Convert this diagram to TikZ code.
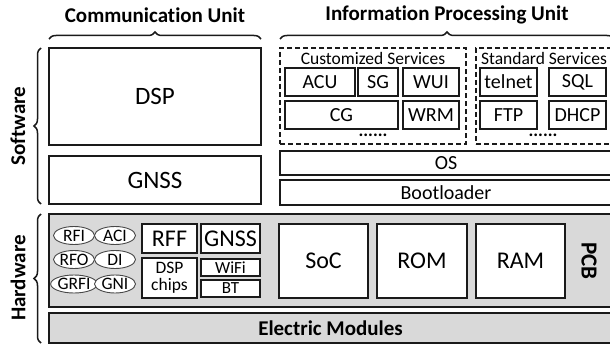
\documentclass[tikz,border=0pt]{standalone}
\usepackage{fontspec}
\setmainfont{Carlito}[Ligatures=NoCommon]
\usetikzlibrary{decorations.pathreplacing,shapes.geometric}
\definecolor{pcbgray}{HTML}{D9D9D9}
\definecolor{ink}{HTML}{1A1A1A}
\tikzset{
  box/.style={draw=ink, line width=1.4pt, fill=white, inner sep=0pt, outer sep=0pt, font=\fontsize{20}{22}\selectfont},
  dbox/.style={draw=ink, line width=1.2pt, dashed, dash pattern=on 5pt off 3pt, inner sep=0pt, outer sep=0pt},
  graybox/.style={draw=ink, line width=1.4pt, fill=pcbgray, inner sep=0pt, outer sep=0pt},
  oval/.style={draw=ink!80, line width=0.9pt, fill=white, ellipse, inner sep=0pt, outer sep=0pt, minimum width=41pt, minimum height=18pt, font=\fontsize{17.5}{18}\selectfont},
  hdr/.style={font=\fontsize{21}{23}\selectfont\bfseries, inner sep=0pt},
  small/.style={font=\fontsize{17.5}{19}\selectfont, inner sep=0pt},
  brc/.style={decorate, decoration={brace, amplitude=7pt}, line width=1.5pt, draw=ink},
  dotsty/.style={font=\fontsize{18}{18}\selectfont\bfseries, inner sep=0pt},
}
\begin{document}
\begin{tikzpicture}[x=1pt,y=-1pt]
\useasboundingbox (0,0) rectangle (610,345);
% headers
\node[hdr] (cu) at (155,15) {Communication Unit};
\node[hdr] (ipu) at (447,15) {Information Processing Unit};
\coordinate (cuL) at (49,39); \coordinate (cuR) at (261,39);
\draw[brc] (cuL) -- (cuR);
\coordinate (ipL) at (280,39); \coordinate (ipR) at (614,39);
\draw[brc] (ipL) -- (ipR);
% side labels
\node[hdr, rotate=90] (sw) at (18,126) {Software};
\node[hdr, rotate=90] (hw) at (18,278) {Hardware};
\coordinate (swB) at (41,204); \coordinate (swT) at (41,48);
\draw[brc] (swB) -- (swT);
\coordinate (hwB) at (41,343); \coordinate (hwT) at (41,214);
\draw[brc] (hwB) -- (hwT);
% communication software
\node[box, minimum width=212pt, minimum height=97pt, font=\fontsize{25}{27}\selectfont] (dsp) at (155,96.5) {DSP};
\node[box, minimum width=212pt, minimum height=48pt, font=\fontsize{25}{27}\selectfont] (gnss) at (155,180) {GNSS};
% information processing software
\node[dbox, minimum width=186pt, minimum height=96pt] (cs) at (373,96) {};
\node[dbox, minimum width=144pt, minimum height=96pt] (ss) at (548,96) {};
\node[small] (cst) at (373,58) {Customized Services};
\node[small] (sst) at (544,58) {Standard Services};
\node[box, minimum width=70pt, minimum height=28pt] (acu) at (320,82) {ACU};
\node[box, minimum width=40pt, minimum height=28pt] (sg) at (378,82) {SG};
\node[box, minimum width=56pt, minimum height=28pt] (wui) at (431,82) {WUI};
\node[box, minimum width=113pt, minimum height=28pt] (cg) at (341.5,115) {CG};
\node[box, minimum width=56pt, minimum height=28pt] (wrm) at (431,115) {WRM};
\node[box, minimum width=57pt, minimum height=28pt] (telnet) at (508.5,82) {telnet};
\node[box, minimum width=57pt, minimum height=28pt] (sql) at (577.5,82) {SQL};
\node[box, minimum width=57pt, minimum height=28pt] (ftp) at (508.5,115) {FTP};
\node[box, minimum width=57pt, minimum height=28pt] (dhcp) at (577.5,115) {DHCP};
\node[dotsty] (dots1) at (373,135) {......};
\node[dotsty] (dots2) at (543,135) {......};
\node[box, minimum width=332pt, minimum height=24pt] (os) at (446,163) {OS};
\node[box, minimum width=332pt, minimum height=25pt] (boot) at (446,192.5) {Bootloader};
% hardware
\node[graybox, minimum width=563pt, minimum height=93pt] (pcb) at (330.5,260.5) {};
\node[graybox, minimum width=563pt, minimum height=30pt, font=\fontsize{21}{23}\selectfont\bfseries] (em) at (330.5,328) {Electric Modules};
\node[oval] (rfi) at (74,235.5) {RFI};
\node[oval] (aci) at (115,235.5) {ACI};
\node[oval] (rfo) at (74,259.5) {RFO};
\node[oval] (di) at (115,259.5) {DI};
\node[oval] (grfi) at (74,284) {GRFI};
\node[oval] (gni) at (115,284) {GNI};
\node[box, minimum width=55pt, minimum height=29pt, font=\fontsize{24}{26}\selectfont] (rff) at (169.5,238.5) {RFF};
\node[box, minimum width=55pt, minimum height=40pt, font=\fontsize{17.5}{17}\selectfont, align=center] (dspc) at (169.5,278) {DSP\\chips};
\node[box, minimum width=59pt, minimum height=29pt, font=\fontsize{24}{26}\selectfont] (gnssh) at (230.5,238.5) {GNSS};
\node[box, minimum width=59pt, minimum height=17pt, font=\fontsize{17}{17}\selectfont] (wifi) at (230.5,267.5) {WiFi};
\node[box, minimum width=59pt, minimum height=17pt, font=\fontsize{17}{17}\selectfont] (bt) at (230.5,288.5) {BT};
\node[box, minimum width=89pt, minimum height=74pt, font=\fontsize{24}{26}\selectfont] (soc) at (323.5,261) {SoC};
\node[box, minimum width=90pt, minimum height=74pt, font=\fontsize{24}{26}\selectfont] (rom) at (422,261) {ROM};
\node[box, minimum width=89pt, minimum height=74pt, font=\fontsize{24}{26}\selectfont] (ram) at (520.5,261) {RAM};
\node[hdr, rotate=-90, font=\fontsize{23}{25}\selectfont\bfseries] (pcbt) at (589,261) {PCB};
\end{tikzpicture}
\end{document}
